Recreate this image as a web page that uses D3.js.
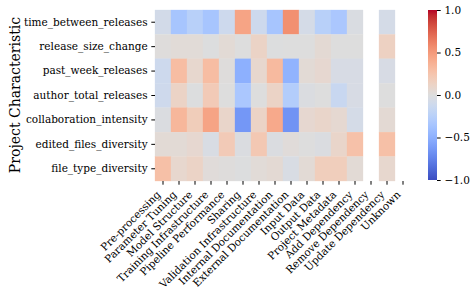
<!DOCTYPE html>
<html><head><meta charset="utf-8">
<script src="https://cdn.jsdelivr.net/npm/d3@7"></script>
<style>body{margin:0;background:#fff}svg{display:block}text{font-family:"DejaVu Serif",serif;fill:#000}</style>
</head><body><svg id="c" width="475" height="295"></svg>
<script>
const categories = ["Pre-processing","Parameter Tuning","Model Structure","Training Infrastructure","Pipeline Performance","Sharing","Validation Infrastructure","Internal Documentation","External Documentation","Input Data","Output Data","Project Metadata","Add Dependency","Remove Dependency","Update Dependency","Unknown"];
const characteristics = ["time_between_releases","release_size_change","past_week_releases","author_total_releases","collaboration_intensity","edited_files_diversity","file_type_diversity"];
// values per characteristic (null = no data)
const timeBetweenReleases   = [-0.08,-0.35,-0.25,-0.35,-0.12, 0.45,-0.12,-0.35, 0.55,-0.07,-0.25,-0.33,-0.03,null,-0.07,null];
const releaseSizeChange     = [ 0.01, 0.03, 0.03,-0.01, 0.04, 0.00, 0.12,-0.01, 0.00, 0.00, 0.05, 0.00, 0.00,null, 0.14,null];
const pastWeekReleases      = [-0.12, 0.30, 0.08, 0.30, 0.01,-0.50, 0.08, 0.32,-0.48, 0.04, 0.07,-0.05,-0.05,null,-0.05,null];
const authorTotalReleases   = [-0.11, 0.12,-0.01, 0.20, 0.00,-0.33, 0.00, 0.12,-0.28,-0.02, 0.00,-0.15,-0.05,null, 0.00,null];
const collaborationIntensity= [-0.02, 0.34, 0.18, 0.45, 0.10,-0.64, 0.12, 0.42,-0.66, 0.07, 0.10, 0.06,-0.07,null, 0.05,null];
const editedFilesDiversity  = [ 0.04, 0.04, 0.07,-0.04, 0.20,-0.02, 0.22,-0.02, 0.02, 0.00,-0.02, 0.10, 0.27,null, 0.28,null];
const fileTypeDiversity     = [ 0.28, 0.08, 0.12, 0.02, 0.01,-0.01, 0.03, 0.05,-0.04, 0.04, 0.17, 0.17, 0.04,null, 0.08,null];
const rowsData = [timeBetweenReleases,releaseSizeChange,pastWeekReleases,authorTotalReleases,collaborationIntensity,editedFilesDiversity,fileTypeDiversity];
const colorbarTicks = [-1.0,-0.5,0.0,0.5,1.0];

// matplotlib coolwarm control colours
const coolwarm = ["#3b4cc0","#445acc","#4d68d7","#5775e1","#6282ea","#6c8ef1","#779af7","#82a5fb","#8db0fe","#98b9ff","#a3c2ff","#aec9fd","#b8d0f9","#c2d5f4","#ccd9ee","#d5dbe6","#dddddd","#e5d8d1","#ecd3c5","#f1ccb9","#f5c4ad","#f7bba0","#f7b194","#f7a687","#f49a7b","#f18d6f","#ec7f63","#e57058","#de604d","#d55042","#cb3e38","#c0282f","#b40426"];
const cw = d3.scaleLinear().domain(d3.range(coolwarm.length).map(i=>-1+2*i/(coolwarm.length-1))).range(coolwarm).interpolate(d3.interpolateRgb).clamp(true);

const svg = d3.select("#c");
const x = d3.scaleBand().domain(categories).range([155,411]);
const y = d3.scaleBand().domain(characteristics).range([10,181]);

const cells = [];
rowsData.forEach((r,i)=>r.forEach((v,j)=>{ if(v!==null) cells.push({row:characteristics[i],col:categories[j],v}); }));
svg.append("g").selectAll("rect").data(cells).join("rect")
  .attr("x",d=>x(d.col)).attr("y",d=>y(d.row))
  .attr("width",x.bandwidth()).attr("height",y.bandwidth())
  .attr("fill",d=>cw(d.v)).attr("stroke",d=>cw(d.v)).attr("stroke-width",0.3);

const fs = "10.5px", tl = 3.7, tp = 3.7;
const ax = svg.append("g").attr("transform","translate(0,181)").call(d3.axisBottom(x).tickSize(tl));
ax.select(".domain").remove();
ax.selectAll("text").attr("font-size",fs).attr("font-family","DejaVu Serif")
  .attr("text-anchor","end").attr("x",0).attr("y",0).attr("dy",0)
  .attr("transform",`translate(-1.75,${tl+tp+6.9}) rotate(-45)`);
const ay = svg.append("g").attr("transform","translate(155,0)").call(d3.axisLeft(y).tickSize(tl).tickPadding(tp));
ay.select(".domain").remove();
ay.selectAll("text").attr("font-size",fs).attr("font-family","DejaVu Serif");

svg.append("text").attr("transform","translate(20,95) rotate(-90)").attr("text-anchor","middle")
  .attr("font-size","14px").text("Project Characteristic");

// colorbar
const cy = d3.scaleLinear().domain([-1,1]).range([180,10]);
const defs = svg.append("defs");
const grad = defs.append("linearGradient").attr("id","g").attr("x1",0).attr("y1",1).attr("x2",0).attr("y2",0);
coolwarm.forEach((c,i)=>grad.append("stop").attr("offset",i/(coolwarm.length-1)).attr("stop-color",c));
svg.append("rect").attr("x",428).attr("y",10).attr("width",9).attr("height",170).attr("fill","url(#g)");
const ac = svg.append("g").attr("transform","translate(437,0)").call(d3.axisRight(cy).tickValues(colorbarTicks).tickSize(tl).tickPadding(tp).tickFormat(d=>d3.format(".1f")(d).replace("-","\u2212")));
ac.select(".domain").remove();
ac.selectAll("text").attr("font-size",fs).attr("font-family","DejaVu Serif");
</script></body></html>
